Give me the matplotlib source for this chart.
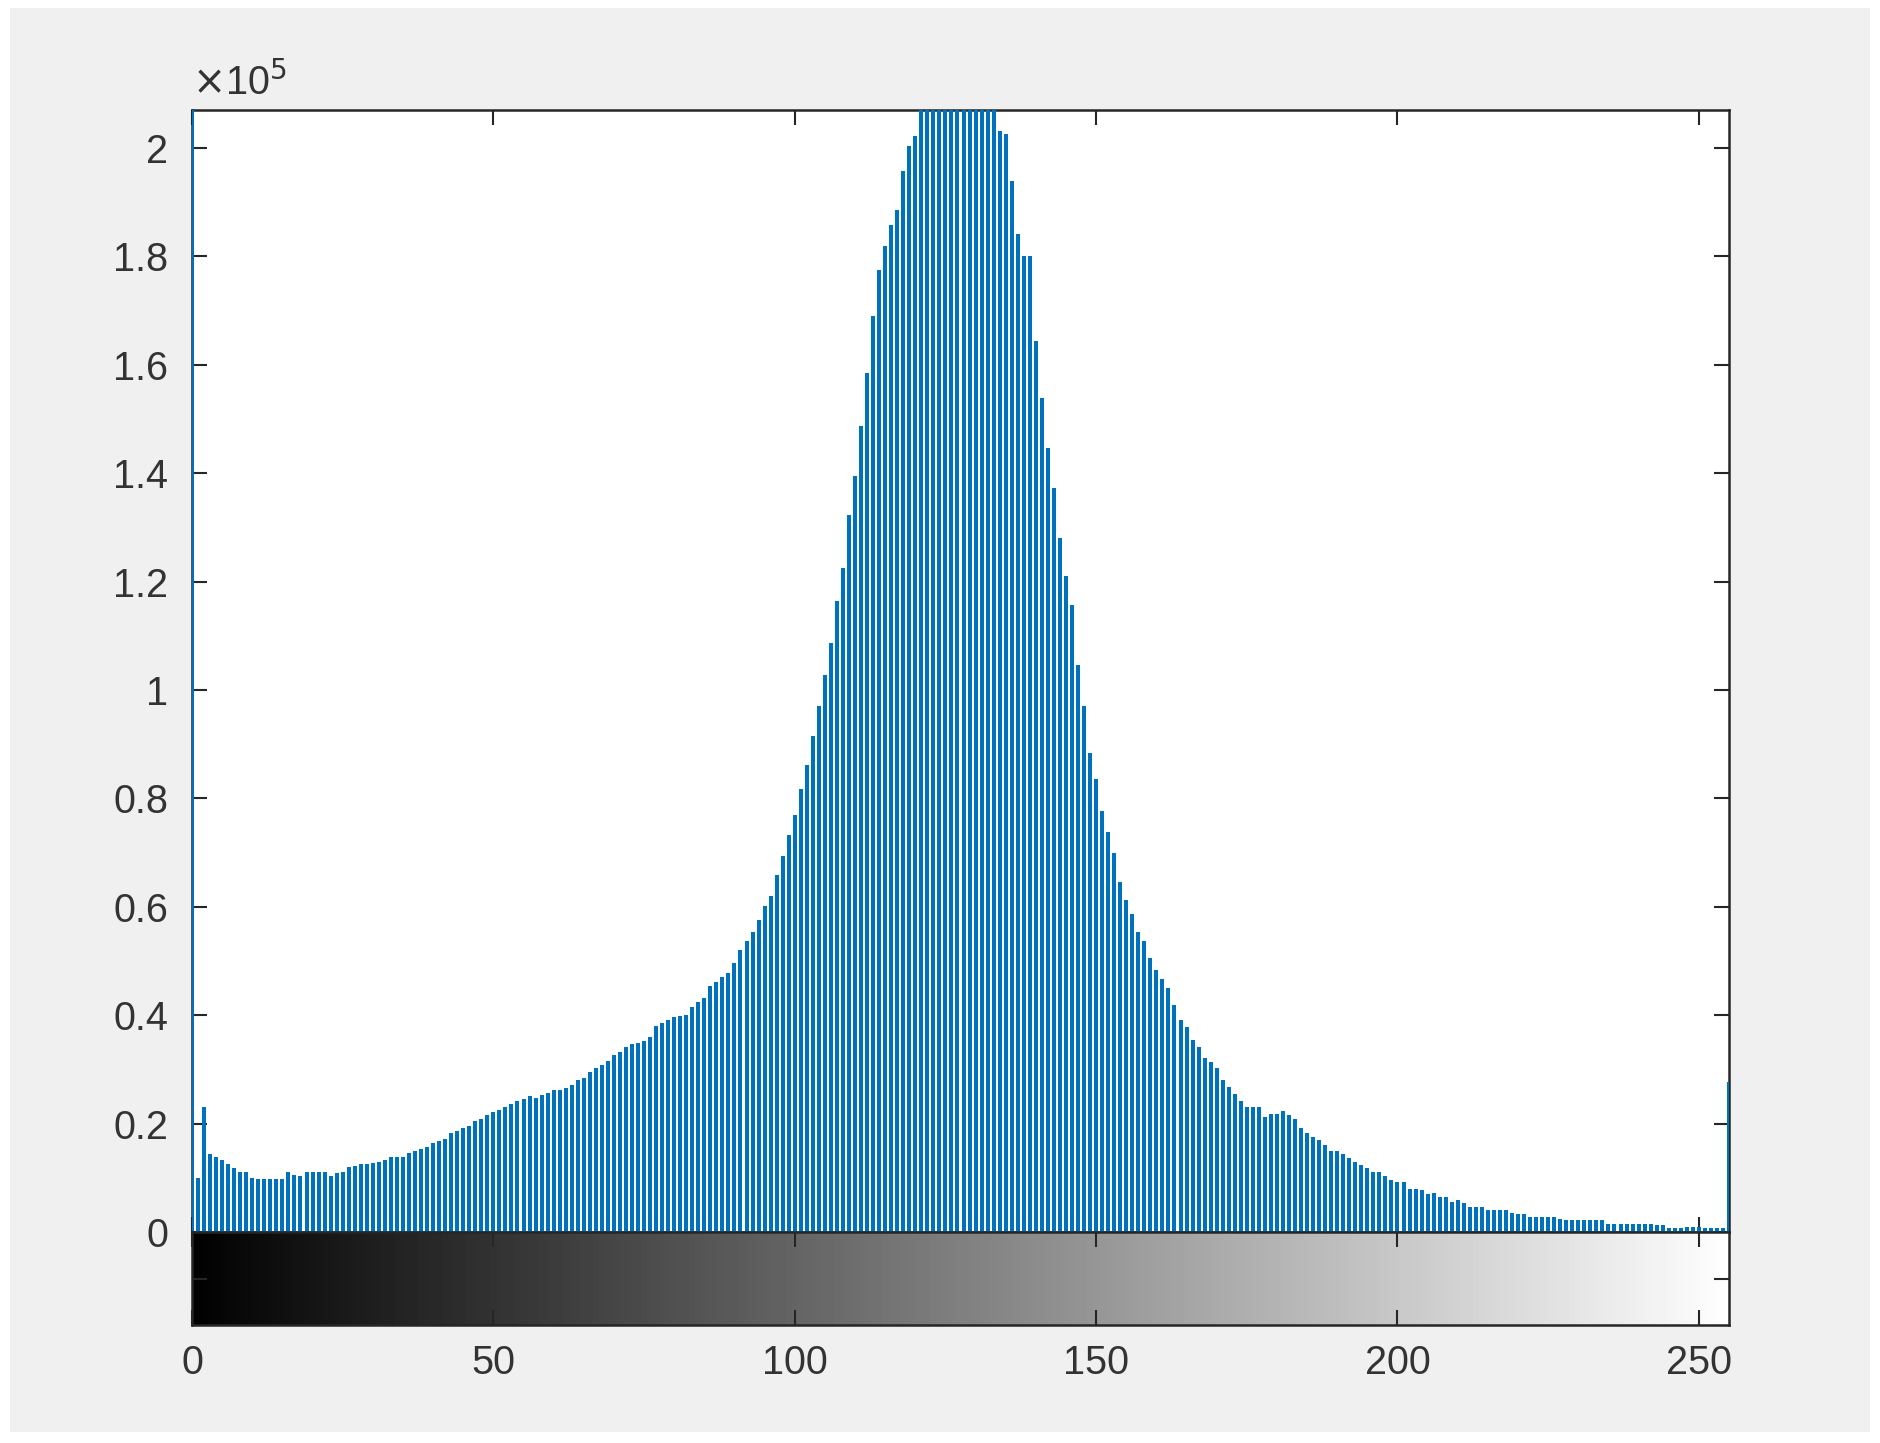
import numpy as np
import matplotlib
matplotlib.use("Agg")
import matplotlib.pyplot as plt
from matplotlib.patches import Rectangle

# grey levels 0..255 and the pixel counts (units of 1e5)
levels = np.arange(256)
counts_e5 = [
    2.50, 0.099, 0.230, 0.144, 0.138, 0.133, 0.125, 0.118, 0.111, 0.111,
    0.100, 0.098, 0.098, 0.098, 0.098, 0.098, 0.111, 0.106, 0.104, 0.111,
    0.111, 0.111, 0.111, 0.104, 0.108, 0.111, 0.119, 0.122, 0.125, 0.125,
    0.128, 0.130, 0.132, 0.139, 0.139, 0.139, 0.146, 0.150, 0.153, 0.157,
    0.164, 0.168, 0.172, 0.182, 0.187, 0.191, 0.195, 0.204, 0.209, 0.216,
    0.222, 0.226, 0.230, 0.236, 0.242, 0.246, 0.250, 0.248, 0.252, 0.256,
    0.262, 0.262, 0.265, 0.272, 0.280, 0.284, 0.296, 0.302, 0.308, 0.316,
    0.327, 0.332, 0.341, 0.347, 0.349, 0.352, 0.360, 0.380, 0.386, 0.391,
    0.397, 0.398, 0.400, 0.416, 0.425, 0.431, 0.453, 0.462, 0.470, 0.478,
    0.496, 0.520, 0.537, 0.553, 0.576, 0.601, 0.619, 0.659, 0.694, 0.732,
    0.770, 0.818, 0.861, 0.916, 0.970, 1.027, 1.087, 1.165, 1.225, 1.322,
    1.395, 1.487, 1.584, 1.690, 1.774, 1.820, 1.858, 1.886, 1.958, 2.004,
    2.022, 2.12, 2.17, 2.21, 2.24, 2.26, 2.27, 2.26, 2.24, 2.21,
    2.18, 2.14, 2.10, 2.08, 2.031, 2.026, 1.939, 1.842, 1.801, 1.801,
    1.644, 1.539, 1.447, 1.373, 1.281, 1.210, 1.157, 1.046, 0.970, 0.884,
    0.835, 0.777, 0.738, 0.699, 0.645, 0.613, 0.586, 0.553, 0.537, 0.505,
    0.483, 0.467, 0.450, 0.418, 0.391, 0.379, 0.354, 0.342, 0.321, 0.314,
    0.302, 0.280, 0.268, 0.255, 0.242, 0.231, 0.231, 0.231, 0.213, 0.218,
    0.218, 0.224, 0.216, 0.208, 0.191, 0.182, 0.176, 0.170, 0.160, 0.149,
    0.149, 0.144, 0.136, 0.130, 0.124, 0.118, 0.111, 0.111, 0.103, 0.096,
    0.092, 0.092, 0.079, 0.079, 0.077, 0.070, 0.072, 0.065, 0.065, 0.056,
    0.059, 0.053, 0.047, 0.046, 0.046, 0.041, 0.041, 0.041, 0.041, 0.035,
    0.034, 0.034, 0.028, 0.027, 0.027, 0.027, 0.027, 0.024, 0.022, 0.022,
    0.022, 0.022, 0.022, 0.022, 0.022, 0.015, 0.015, 0.015, 0.015, 0.015,
    0.015, 0.015, 0.014, 0.013, 0.012, 0.008, 0.008, 0.008, 0.010, 0.010,
    0.009, 0.008, 0.008, 0.008, 0.008, 0.277,
]
counts = np.array(counts_e5) * 1e5

y_ticks = [0, 20000, 40000, 60000, 80000, 100000, 120000, 140000, 160000, 180000, 200000]
y_labels = ['0', '0.2', '0.4', '0.6', '0.8', '1', '1.2', '1.4', '1.6', '1.8', '2']
x_ticks = [0, 50, 100, 150, 200, 250]
y_top = 207000

plt.rcParams['font.family'] = ['Liberation Sans', 'DejaVu Sans']
axis_col = '#262626'
text_col = '#333333'
stem_col = '#0072BD'

W, H = 1881, 1443
fig = plt.figure(figsize=(W / 100, H / 100), dpi=100, facecolor='white')
# grey window background inside a thin white border
fig.patches.append(Rectangle((10 / W, 11 / H), 1860 / W, 1424 / H,
                             transform=fig.transFigure, facecolor='#F0F0F0',
                             edgecolor='none', zorder=-10))

ax = fig.add_axes([192 / W, 1 - 1232 / H, 1537 / W, 1122 / H])
ax.vlines(levels, 0, counts, color=stem_col, linewidth=2.9, zorder=3)
ax.set_xlim(0, 255)
ax.set_ylim(0, y_top)
ax.set_yticks(y_ticks, y_labels)
ax.set_xticks(x_ticks)
ax.tick_params(axis='x', direction='in', top=True, bottom=True,
               labelbottom=False, length=11, width=1.5, color=axis_col)
ax.tick_params(axis='y', direction='in', left=True, right=True,
               length=11, width=1.5, color=axis_col, labelsize=28.5,
               labelcolor=text_col, pad=17)
for s in ax.spines.values():
    s.set_color(axis_col)
    s.set_linewidth(1.8)
ax.text(0.0, 1.006, r'$\times$10$^{5}$', transform=ax.transAxes,
        fontsize=28.5, color=text_col, ha='left', va='bottom')

# grey-level bar under the histogram
cax = fig.add_axes([192 / W, 1 - 1325 / H, 1537 / W, 93 / H])
cax.imshow(levels[np.newaxis, :], cmap='gray', aspect='auto',
           extent=[-0.5, 255.5, 0, 1], vmin=0, vmax=255)
cax.set_xlim(0, 255)
cax.set_ylim(0, 1)
cax.set_xticks(x_ticks)
cax.set_yticks([0.5], [''])
cax.tick_params(axis='x', direction='in', top=True, bottom=True,
                length=11, width=1.5, color=axis_col, labelsize=28.5,
                labelcolor=text_col, pad=14)
cax.tick_params(axis='y', direction='in', left=True, right=True,
                length=11, width=1.5, color=axis_col)
for s in cax.spines.values():
    s.set_color(axis_col)
    s.set_linewidth(1.8)

fig.savefig('out.png', dpi=100, facecolor=fig.get_facecolor())
